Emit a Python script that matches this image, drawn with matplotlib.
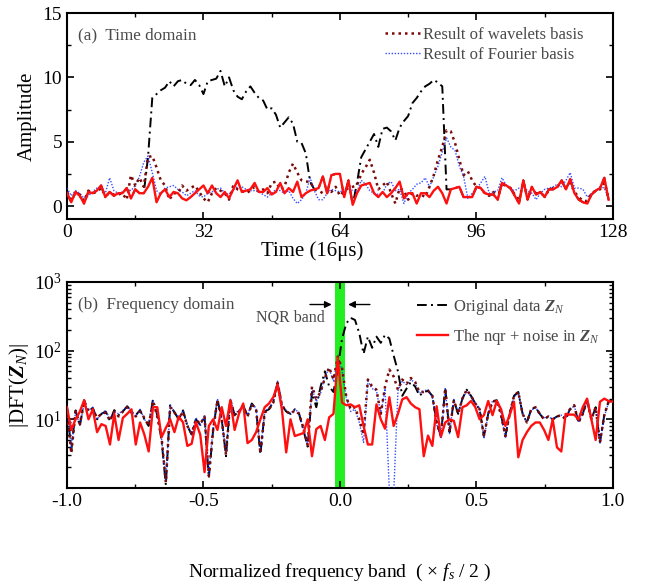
import numpy as np
import matplotlib.pyplot as plt
from matplotlib.ticker import MultipleLocator, LogLocator, LogFormatterMathtext, NullFormatter

plt.rcParams['font.family'] = ['Liberation Serif', 'DejaVu Serif']
plt.rcParams['mathtext.fontset'] = 'custom'
plt.rcParams['mathtext.rm'] = 'Liberation Serif'
plt.rcParams['mathtext.it'] = 'Liberation Serif:italic'
plt.rcParams['mathtext.bf'] = 'Liberation Serif:bold:italic'
plt.rcParams['axes.unicode_minus'] = False

# ---- time domain (128 samples, unit 16 us) ----
t = np.arange(128)

nqr_time = [1.0, 0.3, 1.1, 0.8, 0.2, 1.1, 1.0, 1.2, 1.6, 0.7, 1.1, 0.8, 1.0, 1.0, 1.4, 0.6,
            1.3, 1.0, 1.0, 1.5, 2.2, 0.3, 1.0, 1.3, 0.7, 1.1, 1.0, 0.6, 0.45, 0.7, 1.0, 1.3,
            1.6, 1.0, 1.6, 1.0, 0.7, 1.1, 0.6, 1.3, 2.0, 1.1, 1.2, 1.3, 1.8, 1.1, 1.1, 1.4,
            0.9, 1.1, 1.8, 1.0, 1.4, 1.1, 1.9, 0.7, 1.0, 1.2, 1.3, 1.4, 2.3, 1.0, 2.4, 2.5,
            2.5, 0.7, 2.0, 0.1, 1.0, 1.6, 1.7, 1.8, 1.0, 0.7, 1.1, 0.7, 1.0, 1.4, 1.9, 0.6,
            1.0, 1.0, 0.2, 1.0, 1.0, 0.7, 1.2, 1.5, 1.0, 0.2, 1.3, 1.4, 1.5, 0.7, 0.7, 0.7,
            1.5, 1.4, 1.0, 0.9, 0.9, 0.5, 1.8, 1.6, 1.4, 0.8, 0.2, 2.0, 0.5, 1.5, 0.9, 1.1,
            0.7, 1.3, 1.3, 1.5, 2.0, 1.3, 2.1, 1.0, 0.5, 0.3, 0.2, 0.9, 1.2, 1.4, 2.2, 0.5]

orig_time = [1.0, 0.3, 1.1, 0.8, 0.2, 1.1, 1.0, 1.2, 1.6, 0.7, 1.1, 0.8, 1.0, 1.0, 1.4, 0.6,
             1.3, 1.0, 1.0, 3.8, 8.4, 8.7, 9.0, 9.2, 9.7, 9.3, 9.7, 9.8, 9.5, 9.4, 9.8, 9.4,
             8.7, 9.7, 9.8, 9.9, 10.5, 9.3, 10.0, 9.0, 8.5, 8.3, 8.9, 9.3, 8.8, 8.4, 8.2, 7.5,
             7.6, 7.1, 6.1, 6.5, 6.9, 6.4, 5.0, 4.9, 4.1, 1.9, 1.3, 1.4, 2.3, 1.0, 2.4, 2.5,
             2.5, 0.7, 2.0, 0.1, 1.8, 3.8, 4.4, 5.0, 5.6, 4.6, 6.0, 6.1, 5.8, 5.1, 6.1, 6.6,
             7.0, 8.0, 8.4, 8.9, 9.3, 9.5, 9.8, 9.6, 9.3, 1.3, 1.3, 1.4, 1.5, 0.7, 0.7, 0.7,
             1.5, 1.4, 1.0, 0.9, 0.9, 0.5, 1.8, 1.6, 1.4, 0.8, 0.2, 2.0, 0.5, 1.5, 0.9, 1.1,
             0.7, 1.3, 1.3, 1.5, 2.0, 1.3, 2.1, 1.0, 0.5, 0.3, 0.2, 0.9, 1.2, 1.4, 2.2, 0.5]

wavelet_time = [1.1, 0.5, 1.0, 0.9, 0.4, 1.2, 1.0, 1.1, 1.4, 0.8, 1.0, 0.9, 0.9, 1.0, 0.5, 2.4,
                1.6, 2.2, 1.5, 3.8, 3.9, 3.0, 2.0, 1.6, 0.5, 1.0, 1.0, 1.6, 1.2, 1.4, 1.6, 1.1,
                0.6, 0.3, 1.0, 1.4, 1.2, 1.0, 0.5, 1.6, 1.3, 1.2, 1.0, 1.2, 1.5, 1.1, 1.3, 1.0,
                1.8, 1.9, 1.3, 1.5, 2.6, 3.3, 2.6, 2.0, 1.9, 1.9, 1.3, 1.2, 1.0, 1.3, 1.1, 1.5,
                0.8, 1.2, 1.4, 1.5, 1.6, 2.5, 3.0, 3.6, 2.6, 1.3, 1.6, 1.9, 1.0, 0.2, 1.4, 1.2,
                0.5, 1.0, 0.8, 0.9, 0.7, 1.5, 2.4, 3.6, 4.6, 5.9, 5.8, 4.9, 3.6, 2.4, 2.7, 2.0,
                1.5, 1.4, 1.0, 0.8, 1.1, 0.6, 1.8, 1.5, 1.4, 0.9, 0.4, 1.9, 0.6, 1.4, 1.0, 1.0,
                0.8, 1.2, 1.4, 1.5, 1.9, 1.4, 1.8, 1.1, 0.7, 0.4, 0.4, 1.0, 1.2, 1.3, 1.8, 0.6]

fourier_time = [1.4, 0.8, 1.2, 1.0, 0.6, 0.8, 1.1, 1.4, 1.3, 1.0, 2.2, 1.2, 1.0, 1.1, 1.3, 1.2,
                1.6, 2.3, 3.4, 3.9, 2.6, 1.2, 0.9, 1.4, 1.5, 1.6, 1.3, 1.1, 0.8, 1.0, 1.2, 0.8,
                0.7, 1.0, 1.1, 1.3, 1.4, 1.0, 0.9, 1.3, 1.5, 1.5, 1.3, 1.2, 1.2, 1.1, 0.9, 0.7,
                1.0, 1.3, 1.2, 1.0, 1.2, 0.6, 0.2, 0.5, 1.0, 2.2, 1.2, 0.5, 0.5, 1.0, 1.3, 1.2,
                1.1, 1.3, 1.4, 1.2, 1.1, 2.0, 1.7, 1.2, 1.0, 0.9, 1.0, 1.7, 1.9, 1.2, 1.3, 0.2,
                1.0, 1.3, 1.7, 1.8, 2.2, 1.5, 2.3, 3.1, 4.2, 5.3, 4.6, 4.3, 3.1, 2.3, 0.6, 1.0,
                1.3, 1.8, 2.3, 1.0, 1.1, 1.2, 2.2, 1.6, 1.3, 1.2, 1.4, 1.5, 1.2, 1.0, 0.5, 1.0,
                1.3, 1.4, 1.5, 1.7, 1.5, 2.0, 2.6, 1.4, 1.4, 1.3, 0.7, 1.0, 1.2, 1.5, 1.4, 0.6]

# ---- frequency domain (normalized band -1 .. 1) ----
f = np.linspace(-1, 1, 128)

orig_freq = [15, 3.5, 13.5, 8, 19, 13, 14.7, 10, 12, 13, 9.5, 13.6, 11.5, 13, 15.5, 13,
             11.5, 13.6, 10, 8, 19.5, 11.5, 5, 1.1, 16, 12.6, 10, 13.5, 8, 6, 10, 8.3,
             11, 1.4, 7, 19.5, 10, 2.9, 19.5, 11.5, 13, 16, 11, 17, 14, 3.1, 13, 14,
             18, 35, 16, 13, 12, 14, 12, 7, 4, 25, 15, 30, 50, 30, 25, 55, 150, 250,
             300, 280, 180, 90, 160, 110, 160, 130, 170, 150, 85, 50, 22, 28, 35, 30,
             22, 25, 26, 22, 9, 5.7, 29, 6.5, 19, 12, 20, 27, 22, 17, 14, 5.7, 12, 18,
             19, 11.5, 5.7, 12, 22, 25, 12, 9, 14, 15, 12, 10, 11, 10, 11, 11.5, 10, 14,
             16, 9, 12, 19, 10, 15, 4.6, 11.5, 18, 19]

nqr_freq = [15, 7, 10, 13, 19, 10, 14, 6.5, 8.5, 8, 4.3, 12, 5, 10.5, 12, 14,
            4.3, 9, 6, 3.4, 15, 15, 5.5, 7.5, 10, 6.5, 11, 9, 4.1, 4.4, 9, 6,
            1.7, 8, 10, 7, 15, 8, 19, 7, 12, 17, 4.5, 5, 6.5, 10, 15, 17,
            21, 32, 14, 3.3, 10, 5.7, 6, 6.3, 10, 2.9, 7.2, 8, 5, 10.7, 12, 79,
            17.5, 16, 16.5, 15, 16, 8, 4.3, 4.3, 16.5, 10, 7.3, 21, 8, 12, 19.5, 21,
            17, 15, 14, 2.9, 5.8, 4.1, 15.5, 5.6, 9, 10, 9.5, 5.5, 15, 16, 18.5, 15,
            10, 11.5, 18.5, 11.5, 18.5, 14, 8, 11.5, 18, 2.8, 5, 6.5, 8, 9, 9, 7,
            5, 10, 3.9, 3.4, 12, 11.7, 11.7, 10, 15, 20, 10, 5, 18, 20, 18.5, 18]

wavelet_freq = [14, 3.2, 13, 8.5, 18, 13, 14, 10.5, 12, 12.5, 9.5, 13, 11, 13, 15, 12.5,
                11, 13, 10.5, 8, 18.5, 11, 5.5, 1.2, 15, 12.6, 10, 13, 8, 6.2, 10, 8.5,
                11, 1.5, 7, 19, 10, 3.0, 19, 11.5, 13, 15.5, 11, 16.5, 14, 3.2, 12.5, 14,
                17.5, 34, 16, 13, 12, 13.5, 12, 7.5, 4.2, 30, 20, 25, 40, 57, 38, 82, 55, 21,
                14, 15, 10, 6, 38, 30, 27, 12, 30, 53, 42, 27, 38, 33, 40, 35,
                25, 25, 26, 22, 9, 5.7, 28, 6.5, 19, 12, 20, 27, 22, 17, 14, 5.7, 12, 18,
                19, 11.5, 5.7, 12, 22, 25, 12, 9, 14, 15, 12, 10, 11, 10, 11, 11.5, 10, 14,
                16, 9, 12, 19, 10, 15, 4.6, 11.5, 18, 19]

fourier_freq = [15, 3.8, 13, 8, 17, 13.5, 15, 10, 12, 13.5, 10, 13, 12, 13.5, 15.5, 13,
                11, 14, 10, 8.5, 19, 12, 5.2, 1.3, 16, 13, 10.5, 13.5, 8.5, 6, 10.5, 8,
                11.5, 1.6, 7.5, 20, 10, 3.2, 20, 12, 13.5, 16, 11.5, 17, 14.5, 3.4, 13, 14.5,
                18, 36, 16.5, 13.5, 12, 14, 12.5, 7, 4.3, 28, 18, 24, 42, 55, 36, 80, 52, 20,
                13, 14, 9, 4.6, 36, 28, 26, 12, 28, 0.9, 0.8, 26, 36, 32, 38, 34,
                24, 26, 27, 21, 8.5, 5.2, 28, 6.2, 19.5, 12.5, 20, 26, 21, 17, 14.5, 5.2, 12, 18.5,
                19, 12, 5.3, 12.5, 21, 24, 12.5, 9, 13.5, 15, 12, 10.5, 11, 10, 11, 11.5, 10.5, 13.5,
                16, 9, 12, 18.5, 10.5, 15, 4.4, 11, 17.5, 19]

RED = '#ff1010'
DARKRED = '#7a0a0a'
BLUE = '#1030ff'
GRAY = '#4a4a4a'
DASHDOT = (0, (5, 2.2, 1, 2.2))

fig = plt.figure(figsize=(6.46, 5.83), dpi=100)
ax1 = fig.add_axes([0.1037, 0.6244, 0.845, 0.3533])
ax2 = fig.add_axes([0.1037, 0.163, 0.845, 0.3533])

# (a) time domain
ax1.plot(t, orig_time, color='black', lw=1.4, ls=DASHDOT, zorder=2)
ax1.plot(t, fourier_time, color=BLUE, lw=1.0, ls=(0, (1, 1.2)), alpha=0.85, zorder=3,
         label='Result of Fourier basis')
ax1.plot(t, wavelet_time, color=DARKRED, lw=1.8, ls=(0, (1, 1.6)), zorder=3,
         label='Result of wavelets basis')
ax1.plot(t, nqr_time, color=RED, lw=1.7, zorder=4)
ax1.set_xlim(0, 128)
ax1.set_ylim(-1, 15)
ax1.xaxis.set_major_locator(MultipleLocator(32))
ax1.xaxis.set_minor_locator(MultipleLocator(16))
ax1.yaxis.set_major_locator(MultipleLocator(5))
ax1.yaxis.set_minor_locator(MultipleLocator(2.5))
ax1.set_ylabel('Amplitude', fontsize=15, labelpad=4)
ax1.set_xlabel('Time (16\u03bcs)', fontsize=15)
ax1.xaxis.set_label_coords(0.45, -0.11)
ax1.text(0.02, 0.893, '(a)  Time domain', transform=ax1.transAxes, fontsize=12.3,
         color=GRAY, va='center')
h, l = ax1.get_legend_handles_labels()
ax1.legend(h[::-1], l[::-1], loc='upper right', bbox_to_anchor=(0.958, 0.966),
           frameon=False, fontsize=12, handlelength=2.1, handletextpad=0.15,
           labelspacing=0.25, borderaxespad=0.0, labelcolor=GRAY)

# (b) frequency domain
ax2.axvspan(-0.017, 0.017, color='#22ee22', lw=0, zorder=1)
ax2.plot(f, orig_freq, color='black', lw=1.4, ls=DASHDOT, zorder=2,
         label=r'Original data $\mathbf{Z}_{\mathit{N}}$')
ax2.plot(f, fourier_freq, color=BLUE, lw=1.0, ls=(0, (1, 1.2)), alpha=0.85, zorder=3)
ax2.plot(f, wavelet_freq, color=DARKRED, lw=1.8, ls=(0, (1, 1.6)), zorder=3)
ax2.plot(f, nqr_freq, color=RED, lw=1.7, zorder=4,
         label=r'The nqr + noise in $\mathbf{Z}_{\mathit{N}}$')
ax2.set_yscale('log')
ax2.set_xlim(-1, 1)
ax2.set_ylim(1, 1000)
ax2.xaxis.set_major_locator(MultipleLocator(0.5))
ax2.xaxis.set_minor_locator(MultipleLocator(0.25))
ax2.xaxis.set_major_formatter(plt.FuncFormatter(lambda v, p: '%.1f' % v))
ax2.set_yticks([10, 100, 1000])
ax2.yaxis.set_major_formatter(LogFormatterMathtext())
ax2.yaxis.set_minor_locator(LogLocator(base=10, subs=np.arange(2, 10)))
ax2.yaxis.set_minor_formatter(NullFormatter())
ax2.set_ylabel(r'|DFT($\mathbf{Z}_{\mathit{N}}$)|', fontsize=15, labelpad=2)
ax2.set_xlabel(r'Normalized frequency band  ( $\times$ $\mathit{f}_{\mathit{s}}$ / 2 )',
               fontsize=14)
ax2.xaxis.set_label_coords(0.5, -0.36)
ax2.text(0.02, 0.888, '(b)  Frequency domain', transform=ax2.transAxes, fontsize=12.3,
         color=GRAY, va='center')
ax2.text(-0.18, 300, 'NQR band', fontsize=11.5, color=GRAY, ha='center', va='center')
ax2.annotate('', xy=(-0.02, 470), xytext=(-0.12, 470),
             arrowprops=dict(arrowstyle='-|>', color='black', lw=1, mutation_scale=10))
ax2.annotate('', xy=(0.02, 470), xytext=(0.12, 470),
             arrowprops=dict(arrowstyle='-|>', color='black', lw=1, mutation_scale=10))
ax2.legend(loc='upper right', bbox_to_anchor=(0.989, 0.961), frameon=False, fontsize=12,
           handlelength=1.9, handletextpad=0.3, labelspacing=0.6, borderaxespad=0.0,
           labelcolor=GRAY)

for ax in (ax1, ax2):
    ax.tick_params(which='both', direction='in', top=True, right=True, labelsize=14)
    ax.tick_params(which='major', length=5, width=1.2)
    ax.tick_params(which='minor', length=3, width=1)
    for s in ax.spines.values():
        s.set_linewidth(1.5)

fig.savefig('out.png', dpi=100)
